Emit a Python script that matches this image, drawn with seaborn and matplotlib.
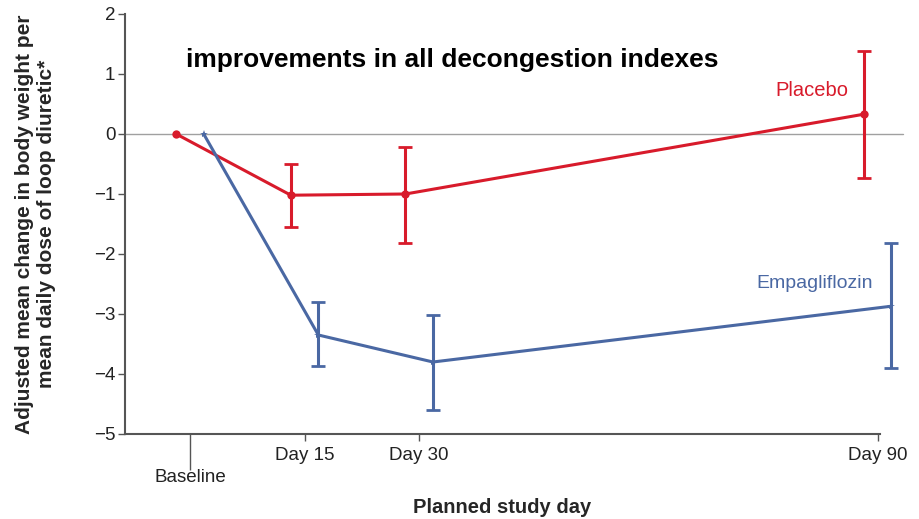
import matplotlib
matplotlib.use("Agg")
import matplotlib.pyplot as plt
import seaborn as sns
import numpy as np
import pandas as pd

# ---- data ----
days = [0, 15, 30, 90]
tick_labels = ["Baseline", "Day 15", "Day 30", "Day 90"]
placebo_mean = [0.0, -1.02, -1.0, 0.33]
placebo_low = [0.0, -1.55, -1.82, -0.73]
placebo_high = [0.0, -0.50, -0.22, 1.38]
empa_mean = [0.0, -3.35, -3.80, -2.87]
empa_low = [0.0, -3.87, -4.60, -3.90]
empa_high = [0.0, -2.80, -3.02, -1.82]
series_names = ["Placebo", "Empagliflozin"]

red = "#d81b2b"
blue = "#4a68a3"

sns.set_style("white")
plt.rcParams['font.family'] = ['Liberation Sans', 'DejaVu Sans']

fig = plt.figure(figsize=(9.2, 5.19), dpi=100)
ax = fig.add_axes([125/920, 1-434/519, (880-125)/920, (434-14)/519])

offset = 1.8
df = pd.DataFrame({
    "day": np.concatenate([np.array(days) - offset, np.array(days) + offset]),
    "value": placebo_mean + empa_mean,
    "group": [series_names[0]]*4 + [series_names[1]]*4,
})

ax.axhline(0, color="#a0a0a0", lw=1.0, xmin=0, xmax=1.03, clip_on=False, zorder=1)

sns.lineplot(data=df, x="day", y="value", hue="group", style="group",
             palette={series_names[0]: red, series_names[1]: blue},
             markers={series_names[0]: "o", series_names[1]: "*"},
             dashes=False, lw=2.2, markersize=6, markeredgewidth=0,
             legend=False, ax=ax, zorder=3, clip_on=False)

for mean, lo, hi, col, sgn in [(placebo_mean, placebo_low, placebo_high, red, -1),
                               (empa_mean, empa_low, empa_high, blue, 1)]:
    x = np.array(days[1:]) + sgn * offset
    m = np.array(mean[1:])
    yerr = np.vstack([m - np.array(lo[1:]), np.array(hi[1:]) - m])
    ax.errorbar(x, m, yerr=yerr, fmt="none", ecolor=col, elinewidth=2.2,
                capsize=5, capthick=2, zorder=3, clip_on=False)

ax.set_xlim(-8.5, 90.3)
ax.set_ylim(-5, 2)
ax.set_yticks(range(-5, 3))
ax.set_yticklabels([str(v).replace("-", "\u2212") for v in range(-5, 3)])
ax.set_xticks(days)
ax.set_xticklabels(["\n" + tick_labels[0]] + tick_labels[1:])

for s in ["top", "right"]:
    ax.spines[s].set_visible(False)
for s in ["left", "bottom"]:
    ax.spines[s].set_color("#555555")
    ax.spines[s].set_linewidth(1.5)

ax.tick_params(axis="both", direction="out", length=5, width=1, color="#555555",
               labelsize=13.5, labelcolor="#222222", left=True, bottom=True)
ax.tick_params(axis="y", pad=2)
ax.tick_params(axis="x", pad=4)
ax.xaxis.get_major_ticks()[0].tick1line.set_markersize(26)
ax.get_xticklabels()[0].set_linespacing(1.4)

ax.set_xlabel("Planned study day", fontsize=14.5, fontweight="bold", labelpad=9)
ax.set_ylabel("Adjusted mean change in body weight per\nmean daily dose of loop diuretic*",
              fontsize=15, fontweight="bold", labelpad=27, linespacing=1.25)

fig.text(186/920, 1-60/519, "improvements in all decongestion indexes",
         fontsize=19, fontweight="bold", color="black", va="center", ha="left")
fig.text(848/920, 1-90/519, series_names[0], color=red, fontsize=14.5, ha="right", va="center")
fig.text(873/920, 1-283/519, series_names[1], color=blue, fontsize=14, ha="right", va="center")

fig.savefig("out.png", dpi=100)
